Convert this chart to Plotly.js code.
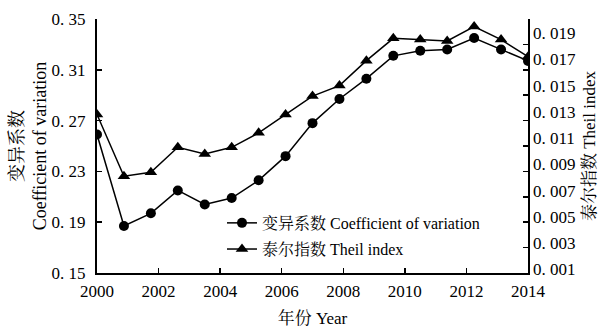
<!DOCTYPE html>
<html>
<head>
<meta charset="utf-8">
<script src="https://cdn.plot.ly/plotly-3.0.1.min.js"></script>
<style>html,body{margin:0;padding:0;background:#fff}#chart{width:599px;height:330px}</style>
</head>
<body>
<div id="chart"></div>
<script>
// Coefficient of variation (left axis), one value per plotted point (17 points)
const cvValues = [0.259, 0.187, 0.197, 0.215, 0.204, 0.209, 0.223, 0.242, 0.268, 0.287, 0.303, 0.321, 0.325, 0.326, 0.335, 0.326, 0.317];
// Theil index (right axis)
const theilValues = [0.0128, 0.0081, 0.0084, 0.0103, 0.0098, 0.0103, 0.0114, 0.0128, 0.0142, 0.0150, 0.0169, 0.0186, 0.0185, 0.0184, 0.0195, 0.0185, 0.0172];
// X tick labels (years)
const yearLabels = [2000, 2002, 2004, 2006, 2008, 2010, 2012, 2014];
// Left axis ticks
const leftTicks = [0.15, 0.19, 0.23, 0.27, 0.31, 0.35];
const leftTickText = ['0. 15', '0. 19', '0. 23', '0. 27', '0. 31', '0. 35'];
// Right axis ticks
const rightTicks = [0.001, 0.003, 0.005, 0.007, 0.009, 0.011, 0.013, 0.015, 0.017, 0.019];
const rightTickText = ['0. 001', '0. 003', '0. 005', '0. 007', '0. 009', '0. 011', '0. 013', '0. 015', '0. 017', '0. 019'];

const nPts = cvValues.length;
const xs = cvValues.map((_, i) => i);
const firstYear = yearLabels[0], lastYear = yearLabels[yearLabels.length - 1];
const xTickVals = yearLabels.map(y => (y - firstYear) * (nPts - 1) / (lastYear - firstYear));

const FONT = 'Liberation Serif, "Noto Serif CJK SC", "Noto Sans CJK SC", serif';

const traces = [
  {x: xs, y: cvValues, type: 'scatter', mode: 'lines+markers', name: '变异系数 Coefficient of variation',
   line: {color: '#000', width: 1.5}, marker: {symbol: 'circle', size: 10, color: '#000'}, yaxis: 'y', legend: 'legend'},
  {x: xs, y: theilValues, type: 'scatter', mode: 'lines+markers', name: '泰尔指数 Theil index',
   line: {color: '#000', width: 1.5}, marker: {symbol: 'triangle-up', size: 11, color: '#000'}, yaxis: 'y2', legend: 'legend2'}
];

const layout = {
  width: 599, height: 330,
  margin: {l: 97, r: 71, t: 19, b: 57},
  paper_bgcolor: '#fff', plot_bgcolor: '#fff',
  font: {family: FONT, size: 17, color: '#000'},
  showlegend: true,
  xaxis: {
    range: [0, nPts - 1], tickvals: xTickVals, ticktext: yearLabels.map(String),
    ticks: 'inside', ticklen: 5, tickwidth: 1.5, tickcolor: '#000',
    showline: true, linewidth: 2, linecolor: '#000', showgrid: false, zeroline: false,
    ticklabelstandoff: 2,
    tickfont: {family: FONT, size: 17},
    title: {text: '年份 Year', font: {family: FONT, size: 17}, standoff: 12}
  },
  yaxis: {
    range: [0.15, 0.35], tickvals: leftTicks, ticktext: leftTickText,
    ticks: 'inside', ticklen: 5, tickwidth: 1.5, tickcolor: '#000',
    showline: true, linewidth: 2, linecolor: '#000', showgrid: false, zeroline: false,
    ticklabelstandoff: 6,
    tickfont: {family: FONT, size: 17},
    title: {text: '变异系数<br>Coefficient of variation', font: {family: FONT, size: 18}, standoff: 0}
  },
  yaxis2: {
    overlaying: 'y', side: 'right',
    range: [0.00073, 0.02007], tickvals: rightTicks, ticktext: rightTickText,
    ticks: '', showline: false, showgrid: false, zeroline: false,
    ticklabelstandoff: 4,
    tickfont: {family: FONT, size: 17},
    title: {text: '泰尔指数 Theil index', font: {family: FONT, size: 17}, standoff: 12}
  },
  yaxis3: {
    overlaying: 'y', side: 'right', range: [0.15, 0.35], dtick: 0.02, tick0: 0.15,
    ticks: 'inside', ticklen: 5, tickwidth: 1.5, tickcolor: '#000',
    showticklabels: false, showline: true, linewidth: 2, linecolor: '#000',
    showgrid: false, zeroline: false
  },
  legend: {x: 0.29, y: 0.197, xanchor: 'left', yanchor: 'middle', bgcolor: 'rgba(0,0,0,0)',
           font: {family: FONT, size: 16}, itemwidth: 30},
  legend2: {x: 0.29, y: 0.094, xanchor: 'left', yanchor: 'middle', bgcolor: 'rgba(0,0,0,0)',
            font: {family: FONT, size: 16}, itemwidth: 30}
};

// empty trace that activates the tick-only right axis
traces.push({x: [], y: [], type: 'scatter', yaxis: 'y3', showlegend: false, hoverinfo: 'skip'});

Plotly.newPlot('chart', traces, layout, {displayModeBar: false, staticPlot: true});
</script>
</body>
</html>
